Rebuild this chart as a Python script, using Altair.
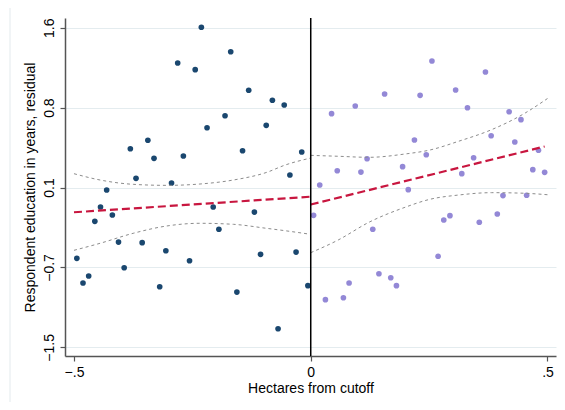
import json
import altair as alt
import pandas as pd

# ---- data ----
x_left = [-0.494, -0.481, -0.469, -0.456, -0.444, -0.431, -0.419, -0.406, -0.394, -0.381,
          -0.369, -0.356, -0.344, -0.331, -0.319, -0.306, -0.294, -0.281, -0.269, -0.256,
          -0.244, -0.231, -0.219, -0.206, -0.194, -0.181, -0.169, -0.156, -0.144, -0.131,
          -0.119, -0.106, -0.094, -0.081, -0.069, -0.056, -0.044, -0.031, -0.019, -0.006]
y_left = [-0.637, -0.876, -0.808, -0.278, -0.139, 0.026, -0.217, -0.479, -0.728, 0.426,
          0.139, -0.485, 0.508, 0.333, -0.912, -0.563, 0.094, 1.258, 0.356, -0.660,
          1.193, 1.604, 0.630, -0.139, -0.355, 0.746, 1.367, -0.964, 0.407, 0.993,
          -0.188, -0.598, 0.653, 0.896, -1.320, 0.850, 0.171, -0.576, 0.394, -0.902]

x_right = [0.006, 0.019, 0.031, 0.044, 0.056, 0.069, 0.081, 0.094, 0.106, 0.119,
           0.131, 0.144, 0.156, 0.169, 0.181, 0.194, 0.206, 0.219, 0.231, 0.244,
           0.256, 0.269, 0.281, 0.294, 0.306, 0.319, 0.331, 0.344, 0.356, 0.369,
           0.381, 0.394, 0.406, 0.419, 0.431, 0.444, 0.456, 0.469, 0.481, 0.494]
y_right = [-0.220, 0.074, -1.038, 0.766, 0.213, -1.019, -0.876, 0.841, 0.200, 0.329,
           -0.355, -0.786, 0.957, -0.825, -0.902, 0.252, 0.029, 0.511, 0.944, 0.368,
           1.277, -0.617, -0.265, -0.223, 0.996, 0.184, 0.824, 0.339, -0.287, 1.170,
           0.552, -0.207, -0.028, 0.785, 0.491, 0.708, -0.025, 0.223, 0.411, 0.197]

fit_left_x = [-0.5, 0.0]
fit_left_y = [-0.190, -0.039]
fit_right_x = [0.0, 0.494]
fit_right_y = [-0.115, 0.448]

ci_left_x = [-0.5, -0.445, -0.375, -0.304, -0.234, -0.163, -0.093, -0.054, 0.0]
ci_left_hi = [0.184, 0.123, 0.081, 0.071, 0.084, 0.123, 0.197, 0.268, 0.336]
ci_left_lo = [-0.559, -0.491, -0.394, -0.323, -0.297, -0.307, -0.346, -0.369, -0.404]

ci_right_x = [0.0, 0.058, 0.123, 0.199, 0.252, 0.312, 0.382, 0.453, 0.5]
ci_right_hi = [0.362, 0.353, 0.343, 0.375, 0.414, 0.498, 0.611, 0.773, 0.913]
ci_right_lo = [-0.582, -0.459, -0.287, -0.142, -0.064, -0.023, 0.000, -0.006, -0.020]

y_ticks = [-1.5, -0.725, 0.05, 0.825, 1.6]
y_tick_labels = ["\u22121.5", "\u22120.7", "0.1", "0.8", "1.6"]
x_ticks = [-0.5, 0.0, 0.5]
x_tick_labels = ["\u2212.5", "0", ".5"]

FONT = "Liberation Sans"
NAVY = "#1a476f"
LAV = "#9388d6"
RED = "#c8163f"
GRAY = "#8c8c8c"

y_label_expr = f"{json.dumps(y_tick_labels)}[round((datum.value - ({y_ticks[0]})) / 0.775)]"
x_label_expr = f"{json.dumps(x_tick_labels)}[round((datum.value + 0.5) / 0.5)]"

x_scale = alt.Scale(domain=[-0.519, 0.518], nice=False, zero=False)
y_scale = alt.Scale(domain=[-1.584, 1.694], nice=False, zero=False)

x_axis = alt.Axis(values=x_ticks, labelExpr=x_label_expr, title="Hectares from cutoff",
                  grid=False, tickSize=5, labelPadding=4, titlePadding=2,
                  domainColor="#555555", tickColor="#555555", domainWidth=1.5, tickWidth=1.2,
                  labelFont=FONT, titleFont=FONT, labelFontSize=14, titleFontSize=14,
                  titleFontWeight="normal", labelColor="black", titleColor="black")
y_axis = alt.Axis(values=y_ticks, labelExpr=y_label_expr,
                  title="Respondent education in years, residual",
                  grid=True, gridColor="#e4ecef", gridWidth=1,
                  labelAngle=270, labelAlign="center", labelBaseline="bottom",
                  tickSize=5, labelPadding=4, titlePadding=5,
                  domainColor="#555555", tickColor="#555555", domainWidth=1.5, tickWidth=1.2,
                  labelFont=FONT, titleFont=FONT, labelFontSize=14, titleFontSize=14,
                  titleFontWeight="normal", labelColor="black", titleColor="black")

X = alt.X("x:Q", scale=x_scale, axis=x_axis)
Y = alt.Y("y:Q", scale=y_scale, axis=y_axis)

df_left = pd.DataFrame({"x": x_left, "y": y_left})
df_right = pd.DataFrame({"x": x_right, "y": y_right})

pts_left = alt.Chart(df_left).mark_circle(size=32, opacity=1, color=NAVY).encode(x=X, y=Y)
pts_right = alt.Chart(df_right).mark_circle(size=32, opacity=1, color=LAV).encode(x=X, y=Y)

def ci_line(xs, ys):
    d = pd.DataFrame({"x": xs, "y": ys})
    return alt.Chart(d).mark_line(color=GRAY, strokeWidth=1, strokeDash=[3, 3],
                                  interpolate="monotone").encode(x=X, y=Y)

def fit_line(xs, ys):
    d = pd.DataFrame({"x": xs, "y": ys})
    return alt.Chart(d).mark_line(color=RED, strokeWidth=2.2, strokeDash=[8, 4]).encode(x=X, y=Y)

cutoff = alt.Chart(pd.DataFrame({"x": [0.0]})).mark_rule(color="black", strokeWidth=1.5).encode(x=X)

frame_df = pd.DataFrame({"a": [0]})
frame_top = alt.Chart(frame_df).mark_rule(color="#e3eaed", strokeWidth=1).encode(
    x=alt.value(-55), x2=alt.value(491), y=alt.value(-14))
frame_left = alt.Chart(frame_df).mark_rule(color="#e3eaed", strokeWidth=1).encode(
    x=alt.value(-55), y=alt.value(-14), y2=alt.value(392))

chart = alt.layer(
    frame_top, frame_left,
    pts_left, pts_right,
    ci_line(ci_left_x, ci_left_hi), ci_line(ci_left_x, ci_left_lo),
    ci_line(ci_right_x, ci_right_hi), ci_line(ci_right_x, ci_right_lo),
    fit_line(fit_left_x, fit_left_y), fit_line(fit_right_x, fit_right_y),
    cutoff,
).properties(
    width=491, height=338,
    padding={"left": 57, "top": 10, "right": 1, "bottom": 46},
    autosize=alt.AutoSizeParams(type="none"),
    background="white",
).configure_view(stroke=None)

chart.save("out.html", embed_options={"renderer": "svg", "actions": False})
